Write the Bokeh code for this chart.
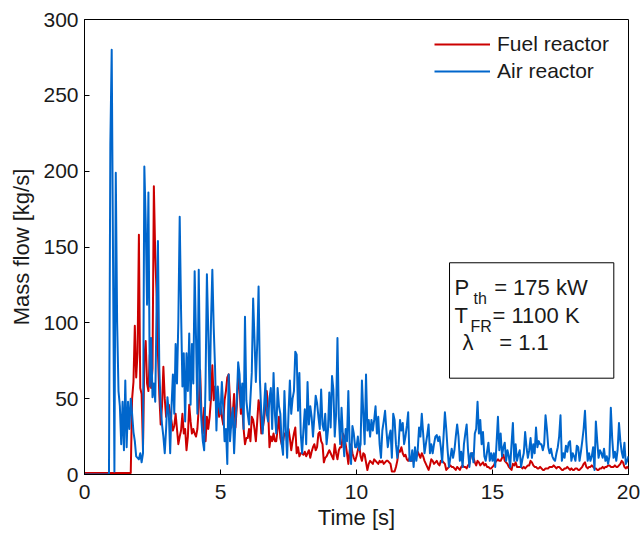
from bokeh.plotting import figure
from bokeh.models import Range1d, Legend, LegendItem, BoxAnnotation, Label, FixedTicker
from bokeh.embed import file_html
from bokeh.resources import INLINE

# sample times [s], every 0.05 s
time_s = [round(0.05 * i, 2) for i in range(401)]

# Air reactor mass flow [kg/s]
air_reactor = [
    0, 0, 0, 0, 0, 0, 0, 0, 0, 0, 0, 0, 0, 0, 0, 0, 0, 0, 0, 218,
    280, 140, 2, 199, 100, 55, 45, 20, 48, 16, 62, 18, 48, 30, 50, 40, 28, 22, 12, 11,
    10, 14, 8, 14, 203, 167, 112, 186, 58, 90, 51, 60, 48, 110, 154, 70, 45, 33, 25, 14,
    30, 51, 40, 14, 45, 66, 40, 86, 60, 101, 170, 108, 58, 80, 35, 80, 55, 93, 46, 86,
    60, 134, 90, 40, 135, 60, 35, 22, 16, 60, 132, 95, 49, 100, 135, 97, 70, 29, 58, 45,
    40, 61, 44, 22, 30, 7, 66, 22, 35, 44, 14, 35, 49, 74, 66, 44, 60, 30, 104, 49,
    40, 33, 50, 67, 116, 89, 61, 86, 124, 62, 40, 27, 44, 60, 40, 35, 50, 57, 30, 67,
    40, 27, 57, 45, 40, 20, 13, 55, 30, 11, 40, 62, 40, 50, 55, 81, 79, 42, 67, 27,
    14, 30, 43, 20, 61, 33, 45, 38, 25, 38, 52, 47, 38, 30, 56, 33, 29, 40, 20, 29,
    54, 31, 65, 56, 25, 40, 90, 38, 20, 44, 25, 12, 30, 22, 55, 18, 7, 32, 27, 18,
    18, 25, 16, 20, 62, 40, 20, 66, 29, 36, 25, 36, 29, 36, 45, 27, 38, 20, 11, 29,
    35, 42, 29, 18, 25, 29, 11, 40, 36, 20, 11, 20, 36, 29, 34, 20, 25, 32, 41, 9,
    9, 16, 5, 18, 9, 16, 31, 25, 40, 27, 14, 20, 26, 33, 14, 20, 14, 20, 25, 26,
    22, 25, 18, 8, 25, 41, 30, 16, 5, 11, 17, 11, 16, 25, 33, 25, 9, 15, 5, 20,
    27, 33, 16, 5, 14, 14, 8, 27, 30, 48, 27, 36, 20, 28, 12, 9, 15, 21, 9, 14,
    9, 14, 5, 21, 38, 16, 27, 12, 18, 21, 9, 16, 12, 5, 20, 34, 9, 20, 9, 13,
    16, 5, 10, 14, 28, 18, 11, 16, 24, 11, 20, 14, 31, 18, 22, 20, 20, 16, 20, 39,
    30, 18, 14, 17, 12, 10, 9, 14, 18, 25, 39, 9, 14, 11, 19, 15, 21, 22, 9, 14,
    12, 9, 19, 18, 9, 15, 22, 30, 42, 22, 9, 14, 9, 12, 18, 3, 35, 22, 11, 16,
    14, 11, 17, 9, 12, 7, 12, 44, 24, 11, 15, 9, 16, 34, 22, 15, 11, 21, 7, 9, 12,
]

# Fuel reactor mass flow [kg/s]
fuel_reactor = [
    1, 1, 1, 1, 1, 1, 1, 1, 1, 1, 1, 1, 1, 1, 1, 1, 1, 1, 1, 1,
    1, 1, 1, 1, 1, 1, 1, 1, 1, 1, 1, 1, 1, 1, 1, 50, 61, 98, 64, 80,
    158, 57, 53, 16, 77, 88, 60, 55, 79, 57, 70, 190, 145, 119, 80, 53, 33, 45, 71, 50,
    38, 45, 46, 40, 35, 29, 32, 40, 30, 20, 25, 29, 40, 27, 30, 16, 25, 46, 35, 27,
    30, 27, 25, 30, 44, 69, 40, 27, 44, 22, 38, 30, 38, 50, 72, 49, 58, 45, 49, 38,
    45, 38, 33, 49, 55, 64, 66, 49, 31, 40, 53, 31, 45, 64, 58, 40, 44, 30, 20, 24,
    24, 30, 22, 38, 36, 30, 22, 35, 49, 44, 27, 30, 36, 45, 55, 44, 18, 25, 22, 27,
    22, 22, 30, 38, 24, 20, 22, 27, 27, 24, 30, 24, 16, 22, 27, 31, 14, 18, 12, 14,
    14, 13, 15, 12, 14, 16, 11, 15, 18, 20, 16, 18, 27, 28, 22, 20, 8, 11, 12, 14,
    16, 14, 12, 10, 20, 14, 10, 16, 18, 18, 27, 25, 20, 14, 7, 16, 20, 14, 11, 9,
    12, 16, 20, 12, 9, 14, 13, 8, 3, 7, 9, 8, 7, 10, 9, 8, 7, 9, 8, 9,
    7, 8, 9, 9, 8, 7, 2, 2, 2, 5, 9, 16, 15, 18, 14, 12, 13, 10, 9, 11,
    9, 9, 11, 14, 12, 15, 13, 11, 14, 12, 9, 7, 5, 3, 6, 10, 9, 7, 8, 9,
    7, 6, 9, 9, 8, 7, 3, 4, 5, 6, 5, 5, 4, 3, 5, 4, 3, 5, 6, 5,
    5, 4, 6, 7, 12, 14, 11, 8, 6, 9, 8, 6, 7, 8, 6, 7, 5, 5, 4, 4,
    5, 6, 8, 9, 10, 9, 9, 11, 13, 9, 8, 7, 5, 4, 3, 7, 6, 8, 5, 5,
    5, 5, 4, 5, 4, 5, 6, 6, 9, 8, 6, 5, 5, 4, 4, 5, 4, 3, 3, 4,
    4, 4, 5, 5, 5, 6, 5, 4, 5, 5, 4, 3, 3, 4, 4, 5, 4, 3, 4, 3,
    3, 4, 4, 3, 3, 4, 5, 7, 8, 5, 4, 5, 5, 6, 5, 4, 4, 3, 3, 4,
    4, 5, 4, 5, 5, 6, 6, 5, 5, 5, 6, 5, 5, 6, 7, 9, 8, 5, 4, 5, 4,
]

x_ticks = [0, 5, 10, 15, 20]
y_ticks = [0, 50, 100, 150, 200, 250, 300]
series_names = ["Fuel reactor", "Air reactor"]
series_colors = ["#CC0000", "#0066CC"]

FONT = "Liberation Sans"
TXT = "#1a1a1a"

p = figure(width=640, height=534, output_backend="svg", toolbar_location=None,
           x_range=Range1d(0, 20), y_range=Range1d(0, 300),
           min_border_left=84, min_border_right=12, min_border_top=19, min_border_bottom=60,
           background_fill_color="white", border_fill_color="white")

r_fuel = p.line(time_s, fuel_reactor, line_color=series_colors[0], line_width=2, line_join="round")
r_air = p.line(time_s, air_reactor, line_color=series_colors[1], line_width=2, line_join="round")

p.xgrid.grid_line_color = None
p.ygrid.grid_line_color = None
p.outline_line_color = "black"
p.outline_line_alpha = 1
p.outline_line_width = 1

p.xaxis.ticker = FixedTicker(ticks=x_ticks)
p.yaxis.ticker = FixedTicker(ticks=y_ticks)
for ax in (p.xaxis[0], p.yaxis[0]):
    ax.major_tick_in = 5
    ax.major_tick_out = 0
    ax.minor_tick_in = 0
    ax.minor_tick_out = 0
    ax.axis_line_color = "black"
    ax.major_tick_line_color = "black"
    ax.major_label_text_font = FONT
    ax.major_label_text_font_size = "21px"
    ax.major_label_text_color = TXT
    ax.axis_label_text_font = FONT
    ax.axis_label_text_font_size = "22px"
    ax.axis_label_text_font_style = "normal"
    ax.axis_label_text_color = TXT

p.xaxis.axis_label = "Time [s]"
p.yaxis.axis_label = "Mass flow [kg/s]"
p.xaxis.major_label_standoff = 10
p.yaxis.major_label_standoff = 6
p.xaxis.axis_label_standoff = 3
p.yaxis.axis_label_standoff = 6

legend = Legend(items=[LegendItem(label=series_names[0], renderers=[r_fuel]),
                       LegendItem(label=series_names[1], renderers=[r_air])],
                location=(350, 391), border_line_color=None, background_fill_alpha=0,
                padding=0, margin=0, spacing=3, glyph_width=56, glyph_height=24,
                label_standoff=7, label_text_font=FONT, label_text_font_size="21px",
                label_text_color=TXT)
p.add_layout(legend)

box = BoxAnnotation(left=13.42, right=19.46, bottom=63.5, top=139.6,
                    fill_color="white", fill_alpha=1, line_color="black", line_alpha=1,
                    line_width=1)
p.add_layout(box)

def lab(x, y, text, size):
    p.add_layout(Label(x=x, y=y, text=text, text_font=FONT, text_font_size=size,
                       text_color=TXT, text_baseline="alphabetic", text_align="left"))

lab(13.60, 123.3, "P", "22px")
lab(14.30, 116.0, "th", "16px")
lab(15.06, 123.3, "= 175 kW", "22px")
lab(13.60, 104.8, "T", "22px")
lab(14.19, 97.5, "FR", "16px")
lab(15.00, 104.8, "= 1100 K", "22px")
lab(13.90, 87.0, "λ", "22px")
lab(15.25, 87.0, "= 1.1", "22px")

open("out.html", "w").write(file_html(p, INLINE))
